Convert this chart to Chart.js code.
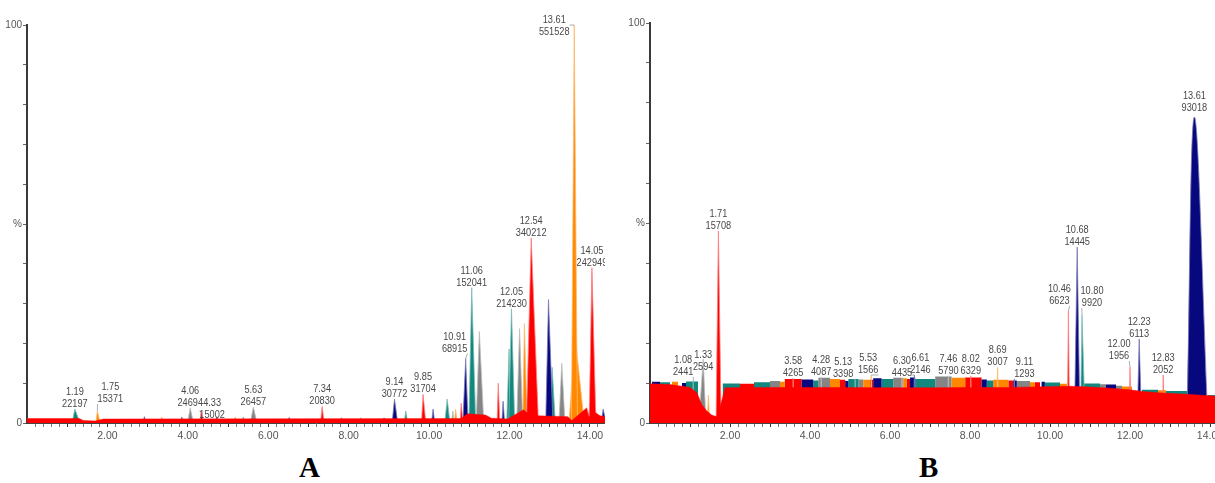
<!DOCTYPE html>
<html>
<head>
<meta charset="utf-8">
<script src="https://cdn.jsdelivr.net/npm/chart.js@4.4.1/dist/chart.umd.min.js"></script>
<style>
  body { margin: 0; background: #fff; width: 1215px; height: 483px; overflow: hidden; position: relative; }
  canvas { position: absolute; top: 0; }
  #chartA { left: 0; }
  #chartB { left: 612px; }
  .tag { position: absolute; top: 451px; font: bold 29px "Liberation Serif", "Times New Roman", serif; color: #000; }
</style>
</head>
<body>
<canvas id="chartA" width="605" height="448"></canvas>
<canvas id="chartB" width="603" height="448"></canvas>
<div class="tag" style="left:299px">A</div>
<div class="tag" style="left:919px">B</div>
<script>
// ---------- panel A : peaks (retention time, % height, start/end, trace, area label) ----------
const aRt     = [1.19, 1.75, 4.06, 4.33, 5.63, 7.34, 9.14, 9.85, 10.91, 11.06, 12.05, 12.54, 13.61, 14.05,
                 11.25, 11.99, 12.25, 12.37, 12.97, 13.06, 13.30, 11.72, 11.84, 10.45, 9.42, 10.10, 10.80, 10.66, 10.59, 14.33,
                 2.92, 3.35, 3.85, 4.72, 5.18, 5.38, 6.52, 7.82, 8.30, 8.88, 13.63, 14.05];
const aHeight = [3.5, 3.0, 3.8, 3.0, 4.0, 4.2, 6.0, 7.2, 16.2, 34.0, 28.7, 46.5, 100, 39.0,
                 23.0, 18.6, 23.7, 25.0, 31.0, 14.0, 15.0, 10.0, 5.5, 6.0, 3.0, 3.5, 5.0, 3.5, 3.0, 3.5,
                 1.6, 1.5, 1.5, 1.6, 1.5, 1.5, 1.4, 1.3, 1.3, 1.3, 22.0, 8.0];
const aFrom   = [1.12, 1.71, 3.99, 4.30, 5.55, 7.30, 9.08, 9.81, 10.84, 10.99, 11.98, 12.42, 13.54, 13.98,
                 11.17, 11.93, 12.18, 12.33, 12.90, 13.02, 13.23, 11.69, 11.81, 10.39, 9.38, 10.06, 10.77, 10.63, 10.56, 14.28,
                 2.88, 3.31, 3.81, 4.68, 5.14, 5.34, 6.48, 7.78, 8.26, 8.84, 13.48, 13.94];
const aTo     = [1.32, 1.82, 4.14, 4.39, 5.72, 7.39, 9.22, 9.92, 10.97, 11.16, 12.13, 12.72, 13.69, 14.15,
                 11.36, 12.02, 12.33, 12.44, 13.08, 13.14, 13.38, 11.76, 11.88, 10.52, 9.47, 10.14, 10.84, 10.70, 10.62, 14.40,
                 2.96, 3.39, 3.89, 4.76, 5.22, 5.42, 6.56, 7.86, 8.34, 8.92, 13.86, 14.20];
const aTrace  = ['teal', 'orange', 'gray', 'red', 'gray', 'red', 'navy', 'red', 'navy', 'teal', 'teal', 'red', 'orange', 'red',
                 'gray', 'teal', 'gray', 'orange', 'navy', 'teal', 'gray', 'red', 'navy', 'teal', 'teal', 'navy', 'red', 'orange', 'gray', 'navy',
                 'navy', 'orange', 'navy', 'navy', 'orange', 'teal', 'navy', 'navy', 'teal', 'navy', 'orange', 'red'];
const aArea   = ['22197', '15371', '24694', '15002', '26457', '20830', '30772', '31704', '68915', '152041', '214230', '340212', '551528', '242949'];

// red baseline band of panel A
const aBaseT = [0, 1.30, 1.40, 1.70, 1.90, 10.80, 10.95, 11.40, 11.55, 11.95, 12.35, 12.45, 12.70, 13.45, 13.55, 13.92, 13.97, 14.15, 14.25, 14.375];
const aBaseY = [1.1, 1.1, 0.6, 0.5, 1.0, 1.1, 2.3, 2.0, 1.2, 1.0, 3.3, 2.5, 1.8, 1.6, 0.6, 3.8, 1.5, 2.5, 1.8, 1.6];

// ---------- panel B ----------
const bRt     = [1.08, 1.33, 1.46, 1.71, 3.58, 4.28, 5.13, 5.53, 6.30, 6.61, 7.46, 8.02, 8.69, 9.11,
                 10.46, 10.68, 10.80, 12.00, 12.23, 12.83, 13.61];
const bHeight = [10.5, 16.0, 7.0, 48.0, 11.2, 11.5, 10.9, 12.0, 11.3, 12.0, 11.8, 11.8, 13.9, 11.0,
                 28.0, 44.0, 27.0, 14.0, 21.0, 12.0, 76.5];
const bFrom   = [1.05, 1.22, 1.43, 1.65, 3.55, 4.25, 5.10, 5.50, 6.27, 6.58, 7.43, 7.99, 8.66, 9.08,
                 10.43, 10.61, 10.76, 11.98, 12.18, 12.81, 13.42];
const bTo     = [1.14, 1.40, 1.49, 1.78, 3.61, 4.31, 5.16, 5.56, 6.33, 6.64, 7.49, 8.05, 8.72, 9.14,
                 10.49, 10.75, 10.88, 12.03, 12.29, 12.86, 13.95];
const bTrace  = ['teal', 'gray', 'orange', 'red', 'red', 'gray', 'teal', 'orange', 'gray', 'navy', 'gray', 'red', 'orange', 'navy',
                 'red', 'navy', 'teal', 'red', 'navy', 'red', 'navy'];
const bArea   = ['2441', '2594', null, '15708', '4265', '4087', '3398', '1566', '4435', '2146', '5790', '6329', '3007', '1293',
                 '6623', '14445', '9920', '1956', '6113', '2052', '93018'];

// low-level noise blocks sitting on the B baseline
const bNoiseFrom  = [0.05, 0.25, 0.55, 0.80, 0.90, 1.82, 2.25, 2.60, 3.00, 3.25, 3.37, 3.79, 4.08, 4.21, 4.50, 4.75, 4.88, 4.96, 5.21, 5.33,
                     5.50, 5.58, 5.79, 6.08, 6.33, 6.42, 6.50, 6.63, 7.13, 7.54, 7.88, 8.29, 8.42, 8.58, 8.96, 9.08, 9.17, 9.50, 9.62, 9.79,
                     9.87, 10.25, 10.85, 11.25, 11.40, 11.65, 11.80, 12.30, 12.70, 12.90, 13.95];
const bNoiseTo    = [0.25, 0.50, 0.70, 0.90, 1.20, 2.25, 2.60, 3.00, 3.25, 3.37, 3.79, 4.08, 4.21, 4.50, 4.75, 4.88, 4.96, 5.21, 5.33, 5.50,
                     5.58, 5.79, 6.08, 6.33, 6.42, 6.50, 6.63, 7.13, 7.54, 7.88, 8.29, 8.42, 8.58, 8.96, 9.08, 9.17, 9.50, 9.62, 9.75, 9.87,
                     10.25, 10.42, 11.25, 11.40, 11.65, 11.80, 12.05, 12.70, 12.90, 13.45, 14.125];
const bNoiseTop   = [10.3, 10.2, 10.3, 10.0, 10.4, 9.9, 9.8, 10.2, 10.5, 10.3, 11.0, 10.9, 10.6, 11.3, 11.0, 10.8, 10.5, 11.0, 10.9, 10.8,
                     10.8, 11.2, 11.0, 11.3, 11.2, 11.0, 11.4, 11.0, 11.6, 11.3, 11.4, 10.9, 10.6, 10.8, 10.6, 10.6, 10.5, 10.2, 10.2, 10.3,
                     10.1, 9.8, 9.9, 9.7, 9.6, 9.3, 9.1, 8.3, 8.2, 8.0, 7.0];
const bNoiseTrace = ['navy', 'teal', 'orange', 'navy', 'teal', 'teal', 'red', 'teal', 'gray', 'orange', 'red', 'navy', 'teal', 'gray', 'orange', 'red', 'navy', 'teal', 'gray', 'orange',
                     'red', 'navy', 'teal', 'gray', 'orange', 'red', 'navy', 'teal', 'gray', 'orange', 'red', 'navy', 'teal', 'orange', 'red', 'navy', 'gray', 'orange', 'red', 'navy',
                     'teal', 'orange', 'teal', 'gray', 'navy', 'gray', 'orange', 'teal', 'orange', 'teal', 'teal'];

// red baseline of panel B (solvent dip near 1.5 min)
const bBaseT = [0, 0.5, 1.0, 1.17, 1.29, 1.42, 1.54, 1.65, 1.70, 1.78, 1.88, 3.0, 4.5, 6.0, 7.0, 8.0, 9.0, 10.5, 11.0, 11.6, 12.0, 12.3, 12.8, 13.4, 14.0, 14.125];
const bBaseY = [9.8, 9.6, 8.9, 7.6, 4.7, 3.0, 2.0, 1.6, 1.7, 5.0, 8.8, 8.9, 8.9, 8.8, 8.8, 8.9, 8.9, 9.2, 9.0, 8.6, 8.3, 7.9, 7.5, 7.2, 6.8, 6.7];

// axis labels
const xTickLabels = ['2.00', '4.00', '6.00', '8.00', '10.00', '12.00', '14.00'];
const yTickValues = [0, 10, 20, 30, 40, 50, 60, 70, 80, 90, 100];
const yTickLabels = { 0: '0', 50: '%', 100: '100' };

const TRACE_FILL = { red: '#ff0000', teal: '#11877d', navy: '#08087e', gray: '#858585', orange: '#ff8800' };
const TRACE_EDGE = { red: '#ff8080', teal: '#7dbdb6', navy: '#7a7ab8', gray: '#bdbdbd', orange: '#ffbb70' };
const FONT = 'Arial, "Liberation Sans", sans-serif';

// one dataset per peak; "rounded" lists peaks (by rt) drawn with a rounded top
function peakDatasets(rt, height, from, to, trace, rounded) {
  return rt.map((t, i) => ({
    data: [{ x: from[i], y: 0 }, { x: t, y: height[i] }, { x: to[i], y: 0 }],
    fill: 'origin', backgroundColor: TRACE_FILL[trace[i]], borderColor: TRACE_EDGE[trace[i]],
    borderWidth: 0.8, pointRadius: 0, order: 1,
    tension: rounded && rounded.includes(t.toFixed(2)) ? 0.4 : 0
  }));
}

function blockDatasets(from, to, top, trace) {
  const groups = {};
  from.forEach((s, i) => { (groups[trace[i]] = groups[trace[i]] || []).push(i); });
  return Object.keys(groups).map(tr => {
    const pts = [];
    groups[tr].forEach(i => pts.push({ x: from[i], y: 0 }, { x: from[i], y: top[i] }, { x: to[i], y: top[i] }, { x: to[i], y: 0 }));
    return { data: pts, fill: 'origin', backgroundColor: TRACE_FILL[tr], borderWidth: 0, pointRadius: 0, order: 2 };
  });
}

function baselineDataset(t, y) {
  return { data: t.map((v, i) => ({ x: v, y: y[i] })), fill: 'origin', backgroundColor: TRACE_FILL.red,
           borderColor: TRACE_FILL.red, borderWidth: 0.5, pointRadius: 0, order: 0 };
}

function labelPlugin(rt, height, area, shift) {
  return {
    id: 'peakLabels',
    afterDatasetsDraw(chart) {
      const { ctx, scales: { x, y } } = chart;
      ctx.save();
      ctx.font = '11.5px ' + FONT;
      ctx.fillStyle = '#484848';
      ctx.textAlign = 'center';
      rt.forEach((t, i) => {
        if (!area[i]) return;
        const key = t.toFixed(2);
        const [dx, dy] = shift[key] || [0, 0];
        const px = x.getPixelForValue(t), py = y.getPixelForValue(height[i]);
        const lx = px + dx, ly = py - 2 + dy;
        ctx.save();
        ctx.translate(lx, ly);
        ctx.scale(0.8, 1);
        ctx.fillText(area[i], 0, 0);
        ctx.fillText(key, 0, -12);
        ctx.restore();
        if (dx) {
          const half = ctx.measureText(area[i]).width * 0.8 / 2;
          const sx = lx - Math.sign(dx) * half;
          const sy = Math.min(Math.max(py, ly - 20), ly + 2);
          ctx.strokeStyle = '#9a9a9a';
          ctx.lineWidth = 0.8;
          ctx.beginPath();
          ctx.moveTo(sx, sy);
          ctx.lineTo(px, py);
          ctx.stroke();
        }
      });
      ctx.restore();
    }
  };
}

function makePanel(id, cfg) {
  const xTicks = [];
  for (let k = 1; k * 0.2 <= cfg.xMax + 1e-9; k++) xTicks.push(Math.round(k * 2) / 10);
  return new Chart(document.getElementById(id), {
    type: 'line',
    data: { datasets: cfg.datasets },
    options: {
      responsive: false,
      animation: false,
      events: [],
      layout: { padding: { top: cfg.top, right: 0, left: 0, bottom: 0 } },
      plugins: { legend: { display: false }, tooltip: { enabled: false } },
      scales: {
        x: {
          type: 'linear', min: 0, max: cfg.xMax,
          afterBuildTicks: s => { s.ticks = xTicks.map(v => ({ value: v })); },
          afterFit: s => { s.height = 25; s.paddingLeft = 0; s.paddingRight = 0; },
          ticks: {
            autoSkip: false, maxRotation: 0, padding: 3, color: '#555',
            font: { family: FONT, size: 10.5 },
            callback: v => xTickLabels.find(l => Math.abs(parseFloat(l) - v) < 1e-6) || ''
          },
          grid: { drawOnChartArea: false, drawTicks: true, tickLength: 4,
                  color: c => (Math.abs(c.tick.value - Math.round(c.tick.value)) < 1e-6 ? '#333' : '#777') },
          border: { display: true, color: '#444', width: 1 }
        },
        y: {
          min: 0, max: 100,
          afterBuildTicks: s => { s.ticks = yTickValues.map(v => ({ value: v })); },
          afterFit: s => { s.width = cfg.axisLeft; },
          ticks: { autoSkip: false, padding: 1, color: '#555', font: { family: FONT, size: 10 },
                   callback: v => yTickLabels[v] || '' },
          grid: { drawOnChartArea: false, drawTicks: true, tickLength: 4, color: '#666' },
          border: { display: true, color: '#3a3a3a', width: 2 }
        }
      }
    },
    plugins: [labelPlugin(cfg.rt, cfg.height, cfg.area, cfg.shift)]
  });
}

makePanel('chartA', {
  xMax: 14.375, top: 25, axisLeft: 27,
  rt: aRt, height: aHeight, area: aArea,
  shift: { '1.75': [13, -7], '4.33': [11, 9], '10.91': [-11, -5], '13.61': [-20, 12] },
  datasets: [baselineDataset(aBaseT, aBaseY), ...peakDatasets(aRt, aHeight, aFrom, aTo, aTrace)]
});

makePanel('chartB', {
  xMax: 14.125, top: 23, axisLeft: 38,
  rt: bRt, height: bHeight, area: bArea,
  shift: { '1.08': [-10, -4], '1.33': [0, 13], '5.13': [-12, 0], '5.53': [-3, 0], '6.61': [6, 0], '9.11': [10, 0],
           '10.46': [-9, -5], '10.80': [10, -7], '12.00': [-11, -6], '13.61': [0, -4] },
  datasets: [baselineDataset(bBaseT, bBaseY),
             ...peakDatasets(bRt, bHeight, bFrom, bTo, bTrace, ['13.61']),
             ...blockDatasets(bNoiseFrom, bNoiseTo, bNoiseTop, bNoiseTrace)]
});
</script>
</body>
</html>
